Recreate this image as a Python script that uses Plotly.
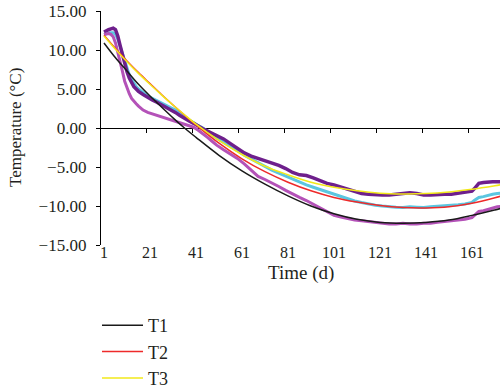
import plotly.graph_objects as go

# ---- fitted curves (sampled) ----
fit_days = [1, 6, 11, 16, 21, 26, 31, 36, 41, 51, 61, 71, 81, 91, 101, 111, 121, 131, 141, 151, 161, 171, 175]
t1 = [10.9, 9.0, 7.3, 5.6, 4.1, 2.7, 1.3, 0.0, -1.2, -3.5, -5.5, -7.2, -8.7, -10.0, -11.0, -11.7, -12.1, -12.2, -12.1, -11.8, -11.2, -10.5, -10.2]
t2 = [11.9, 10.2, 8.6, 7.1, 5.7, 4.3, 2.95, 1.65, 0.4, -1.95, -3.95, -5.6, -6.95, -8.05, -8.9, -9.5, -9.95, -10.2, -10.25, -10.1, -9.65, -8.95, -8.6]
t3 = [11.8, 10.1, 8.5, 7.0, 5.6, 4.25, 2.95, 1.7, 0.5, -1.6, -3.4, -4.9, -6.0, -6.95, -7.6, -8.05, -8.35, -8.45, -8.4, -8.2, -7.85, -7.4, -7.2]

# ---- measured series ----
meas_days = [1, 2, 3, 4, 5, 6, 7, 8, 9, 10, 11, 12, 13, 14, 15, 16, 18, 20, 22, 24, 26, 28, 30, 32, 34, 36, 38, 40,
             42, 44, 46, 48, 50, 53, 56, 59, 62, 65, 68, 71, 74, 77, 80, 83, 86, 89, 92, 95, 98, 101, 104, 107, 110,
             113, 116, 119, 122, 125, 128, 131, 134, 137, 140, 143, 146, 149, 152, 155, 158, 161, 162, 163, 164, 166,
             168, 170, 172, 175]
purple = [12.3, 12.5, 12.6, 12.7, 12.8, 12.6, 11.8, 10.6, 9.4, 8.2, 7.2, 6.4, 5.8, 5.3, 5.0, 4.7, 4.3, 3.9, 3.6, 3.3,
          3.0, 2.7, 2.3, 2.0, 1.6, 1.2, 0.9, 0.6, 0.2, -0.1, -0.4, -0.7, -0.9, -1.4, -2.0, -2.6, -3.2, -3.6, -3.9,
          -4.1, -4.4, -4.8, -5.2, -5.7, -6.0, -6.1, -6.4, -6.8, -7.1, -7.3, -7.6, -7.9, -8.2, -8.4, -8.5, -8.6, -8.6,
          -8.6, -8.5, -8.3, -8.3, -8.4, -8.6, -8.6, -8.5, -8.5, -8.5, -8.4, -8.3, -8.1, -7.8, -7.4, -7.1, -7.0, -6.9,
          -6.9, -6.9, -6.9]
cyan = [12.0, 12.1, 12.2, 12.2, 12.2, 12.0, 11.4, 10.5, 9.5, 8.5, 7.6, 6.8, 6.2, 5.7, 5.3, 5.0, 4.5, 4.1, 3.8, 3.5,
        3.2, 2.9, 2.6, 2.3, 1.8, 1.4, 1.0, 0.7, 0.3, 0.0, -0.5, -0.9, -1.3, -1.8, -2.3, -2.9, -3.5, -4.0, -4.5, -5.0,
        -5.4, -5.8, -6.2, -6.6, -6.9, -7.3, -7.6, -7.9, -8.2, -8.5, -8.8, -9.1, -9.35, -9.55, -9.75, -9.9, -10.0,
        -10.1, -10.15, -10.2, -10.1, -10.15, -10.2, -10.1, -10.05, -10.0, -9.95, -9.85, -9.75, -9.55, -9.3, -9.1,
        -8.9, -8.8, -8.6, -8.5, -8.4, -8.3]
magenta = [12.0, 12.1, 12.1, 12.0, 11.7, 10.9, 9.8, 8.6, 7.3, 6.0, 5.1, 4.4, 3.8, 3.4, 3.1, 2.8, 2.3, 2.0, 1.8, 1.6,
           1.4, 1.3, 1.1, 0.9, 0.7, 0.5, 0.3, 0.1, -0.3, -0.7, -1.2, -1.7, -2.2, -2.8, -3.3, -3.9, -4.6, -5.4, -6.2,
           -6.6, -7.0, -7.5, -8.0, -8.5, -8.9, -9.3, -9.8, -10.3, -10.8, -11.2, -11.4, -11.6, -11.8, -11.9, -12.0,
           -12.1, -12.2, -12.3, -12.3, -12.2, -12.3, -12.3, -12.2, -12.2, -12.1, -12.0, -11.9, -11.8, -11.7, -11.5,
           -11.2, -10.9, -10.7, -10.6, -10.4, -10.2, -10.1, -10.0]

x_tick_vals = [1, 21, 41, 61, 81, 101, 121, 141, 161]
zero_tick_vals = [19.3, 39.3, 59.3, 79.3, 99.3, 119.3, 139.3, 159.3]
y_tick_vals = [-15, -10, -5, 0, 5, 10, 15]

FONT = "Liberation Serif"

fig = go.Figure()
fig.add_trace(go.Scatter(x=meas_days, y=cyan, mode="lines", line=dict(color="#5BC6E0", width=3),
                         showlegend=False, hoverinfo="skip"))
fig.add_trace(go.Scatter(x=meas_days, y=purple, mode="lines", line=dict(color="#6E1F8C", width=3.5),
                         showlegend=False, hoverinfo="skip"))
fig.add_trace(go.Scatter(x=meas_days, y=magenta, mode="lines", line=dict(color="#B452B8", width=3),
                         showlegend=False, hoverinfo="skip"))
fig.add_trace(go.Scatter(x=fit_days, y=t1, mode="lines", name="T1", line=dict(color="#1A1A1A", width=1.5, shape="spline")))
fig.add_trace(go.Scatter(x=fit_days, y=t2, mode="lines", name="T2", line=dict(color="#EE2A2A", width=1.5, shape="spline")))
fig.add_trace(go.Scatter(x=fit_days, y=t3, mode="lines", name="T3", line=dict(color="#F2E81A", width=1.5, shape="spline")))
# dummy trace to carry the tick marks along the zero line
fig.add_trace(go.Scatter(x=[], y=[], xaxis="x2", showlegend=False, hoverinfo="skip"))

xr = [-0.3, 173.2]
fig.update_layout(
    width=500, height=388,
    margin=dict(l=101, r=0, t=11, b=143),
    paper_bgcolor="white", plot_bgcolor="white",
    font=dict(family=FONT, color="#231F20", size=17),
    xaxis=dict(range=xr, tickvals=x_tick_vals, ticks="", showline=False, showgrid=False,
               zeroline=False, tickfont=dict(size=16, color="#231F20"), automargin=False,
               ticklabelstandoff=-4),
    xaxis2=dict(range=xr, overlaying="x", anchor="free", position=0.5, side="bottom",
                tickvals=zero_tick_vals, ticks="outside", ticklen=4, tickcolor="black", tickwidth=1.2,
                showticklabels=False, showline=False, showgrid=False, zeroline=False, automargin=False),
    yaxis=dict(range=[-15, 15], tickvals=y_tick_vals, tickformat=".2f", ticks="outside", ticklen=4,
               tickcolor="black", showline=True, linecolor="black", linewidth=1.3, showgrid=False,
               zeroline=True, zerolinecolor="black", zerolinewidth=1.3,
               tickfont=dict(size=17, color="#231F20"), automargin=False, ticklabelstandoff=6),
    legend=dict(x=-0.01, xref="paper", y=0.2088, yref="container", xanchor="left", yanchor="top",
                font=dict(size=18, family=FONT), itemwidth=41, bgcolor="rgba(0,0,0,0)",
                traceorder="normal"),
    annotations=[
        dict(text="Time (d)", xref="paper", yref="paper", x=0.5, y=-0.118, showarrow=False,
             xanchor="center", yanchor="middle", font=dict(size=19, family=FONT)),
        dict(text="Temperature (°C)", xref="paper", yref="paper", x=-0.2155, y=0.5, textangle=-90,
             showarrow=False, xanchor="center", yanchor="middle", font=dict(size=17, family=FONT)),
    ],
)

fig.write_html("out.html", config={"displayModeBar": False},
               post_script="document.body.style.margin='0';document.body.style.padding='0';")
